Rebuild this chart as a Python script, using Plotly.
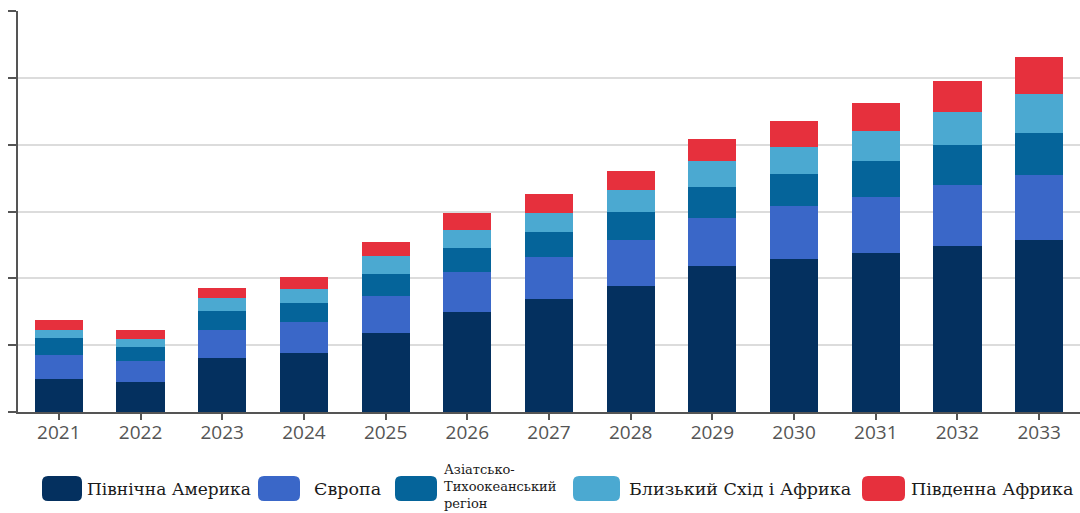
import plotly.graph_objects as go

years = ["2021", "2022", "2023", "2024", "2025", "2026", "2027", "2028", "2029", "2030", "2031", "2032", "2033"]
north_america = [4.9, 4.5, 8.1, 8.8, 11.8, 14.9, 16.9, 18.8, 21.8, 22.9, 23.8, 24.9, 25.7]
europe = [3.7, 3.1, 4.2, 4.7, 5.6, 6.1, 6.3, 7.0, 7.3, 7.9, 8.4, 9.1, 9.7]
asia_pacific = [2.4, 2.1, 2.8, 2.8, 3.3, 3.5, 3.7, 4.1, 4.6, 4.8, 5.3, 5.9, 6.3]
middle_east_africa = [1.3, 1.2, 1.9, 2.1, 2.6, 2.8, 2.9, 3.3, 3.8, 4.0, 4.5, 5.0, 5.9]
south_africa = [1.5, 1.3, 1.6, 1.8, 2.2, 2.5, 2.8, 2.9, 3.4, 3.9, 4.2, 4.7, 5.5]

series_names = ["Північна Америка", "Європа", "Азіатсько-<br>Тихоокеанський<br>регіон",
                "Близький Схід і Африка", "Південна Африка"]
colors = ["#04305f", "#3a67c8", "#05649a", "#4ba9d1", "#e6303d"]
series_values = [north_america, europe, asia_pacific, middle_east_africa, south_africa]

W, H = 1080, 513
L, R, T, B = 18, 0, 11, 101
PW, PH = W - L - R, H - T - B

fig = go.Figure()
for name, vals, col in zip(series_names, series_values, colors):
    fig.add_trace(go.Bar(x=years, y=vals, name=name, marker=dict(color=col, line=dict(width=0)),
                         showlegend=False))


def px_x(px):
    return (px - L) / PW


def px_y(py):
    return (H - B - py) / PH


def rounded_rect(x0, y0, x1, y1, r=5):
    def P(x, y):
        return f"{px_x(x):.5f},{px_y(y):.5f}"
    return (f"M{P(x0 + r, y0)} L{P(x1 - r, y0)} Q{P(x1, y0)} {P(x1, y0 + r)} "
            f"L{P(x1, y1 - r)} Q{P(x1, y1)} {P(x1 - r, y1)} L{P(x0 + r, y1)} "
            f"Q{P(x0, y1)} {P(x0, y1 - r)} L{P(x0, y0 + r)} Q{P(x0, y0)} {P(x0 + r, y0)} Z")


legend_items = [
    (42, 82, 86, 17, 489),
    (258, 300, 313, 17.5, 489),
    (395, 437, 443, 13, 486),
    (573, 620, 628, 17.5, 489),
    (862, 905, 910, 17.5, 489),
]
shapes = []
annotations = []
for (sx0, sx1, tx, fs, ty), name, col in zip(legend_items, series_names, colors):
    shapes.append(dict(type="path", xref="paper", yref="paper", path=rounded_rect(sx0, 476, sx1, 501, 6),
                       fillcolor=col, line=dict(width=0)))
    annotations.append(dict(xref="paper", yref="paper", x=px_x(tx), y=px_y(ty), text=name,
                            showarrow=False, xanchor="left", yanchor="middle", align="left",
                            borderpad=0,
                            font=dict(family="DejaVu Serif", size=fs, color="#1a1a1a")))

fig.update_layout(
    barmode="stack",
    bargap=0.41,
    width=W, height=H,
    margin=dict(l=L, r=R, t=T, b=B),
    paper_bgcolor="white",
    plot_bgcolor="white",
    shapes=shapes,
    annotations=annotations,
    xaxis=dict(type="category", showline=True, linecolor="#555555", linewidth=1.5,
               ticks="outside", ticklen=6, tickcolor="#555555", tickwidth=1.5,
               ticklabelstandoff=-4,
               tickfont=dict(family="Open Sans", size=19, color="#555555"),
               showgrid=False),
    yaxis=dict(range=[0, 60], dtick=10, showticklabels=False, showline=True,
               linecolor="#555555", linewidth=1.5, ticks="outside", ticklen=8,
               tickcolor="#555555", tickwidth=1.5, showgrid=True, gridcolor="#dcdcdc",
               gridwidth=1.5, zeroline=False),
)

fig.write_html("out.html")
